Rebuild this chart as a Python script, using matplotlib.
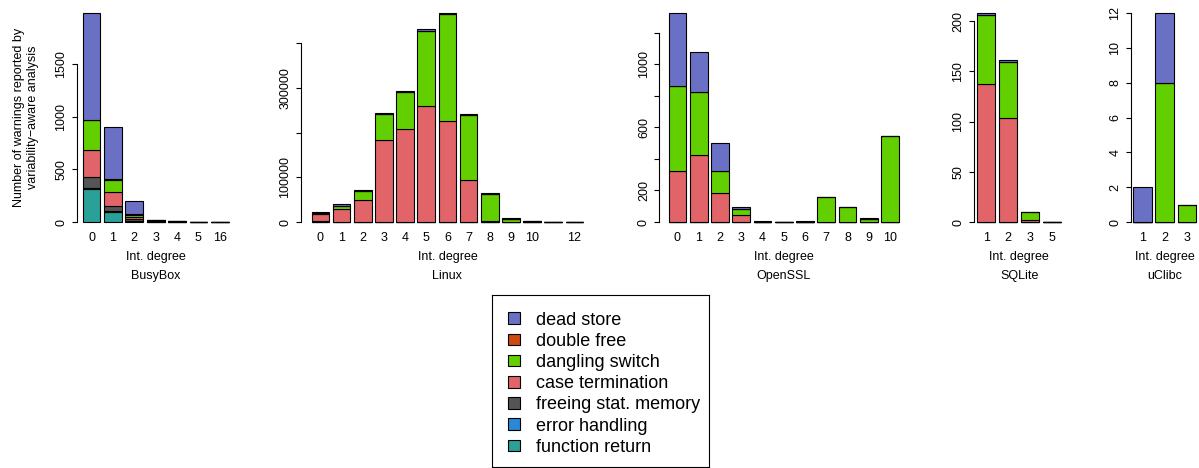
import matplotlib
matplotlib.use("Agg")
import matplotlib.pyplot as plt
from matplotlib.patches import Rectangle
import numpy as np

plt.rcParams['font.family'] = ['Liberation Sans', 'DejaVu Sans']

# ---------------- data ----------------
categories = ["function return", "error handling", "freeing stat. memory",
              "case termination", "dangling switch", "double free", "dead store"]
colors = {"dead store": "#6A70C4", "double free": "#D04A10",
          "dangling switch": "#62D000", "case termination": "#E06468",
          "freeing stat. memory": "#555555", "error handling": "#2A88D8",
          "function return": "#2AA198"}

busybox_degrees = ["0", "1", "2", "3", "4", "5", "16"]
busybox_function_return = [310, 95, 10, 2, 1, 0, 0]
busybox_error_handling = [12, 6, 3, 1, 0, 0, 0]
busybox_freeing = [103, 50, 18, 4, 2, 1, 0]
busybox_case = [260, 130, 18, 5, 3, 1, 1]
busybox_dangling = [285, 123, 22, 4, 2, 1, 1]
busybox_double_free = [3, 2, 3, 1, 0, 0, 0]
busybox_dead_store = [1014, 502, 122, 5, 3, 2, 1]

linux_degrees = ["0", "1", "2", "3", "4", "5", "6", "7", "8", "9", "10", "", "12"]
linux_freeing = [2000, 0, 0, 0, 0, 0, 0, 0, 0, 0, 500, 0, 0]
linux_case = [16000, 28400, 49000, 183600, 208000, 260000, 226000, 93000, 2000, 500, 300, 100, 50]
linux_dangling = [3000, 8200, 21000, 58400, 83000, 168000, 239000, 146500, 60700, 5500, 700, 300, 100]
linux_dead_store = [2000, 3700, 1000, 1500, 2500, 3000, 2000, 1500, 1500, 2000, 1000, 300, 200]

openssl_degrees = ["0", "1", "2", "3", "4", "5", "6", "7", "8", "9", "10"]
openssl_case = [324, 423, 182, 42, 2, 1, 2, 0, 0, 0, 0]
openssl_dangling = [539, 404, 140, 41, 1, 0, 1, 161, 97, 21, 544]
openssl_dead_store = [462, 250, 177, 10, 2, 1, 2, 0, 0, 2, 0]

sqlite_degrees = ["1", "2", "3", "5"]
sqlite_case = [137, 104, 2, 0]
sqlite_dangling = [69, 55, 8, 0]
sqlite_dead_store = [2, 2, 0, 0.5]

uclibc_degrees = ["1", "2", "3"]
uclibc_dangling = [0, 8, 1]
uclibc_dead_store = [2, 4, 0]

busybox_ticks = [0, 500, 1000, 1500]
busybox_ticklabels = ["0", "500", "1000", "1500"]
linux_ticks = [0, 100000, 200000, 300000, 400000]
linux_ticklabels = ["0", "100000", "", "300000", ""]
openssl_ticks = [0, 200, 400, 600, 800, 1000, 1200]
openssl_ticklabels = ["0", "200", "", "600", "", "1000", ""]
sqlite_ticks = [0, 50, 100, 150, 200]
sqlite_ticklabels = ["0", "50", "100", "150", "200"]
uclibc_ticks = [0, 2, 4, 6, 8, 10, 12]
uclibc_ticklabels = ["0", "2", "4", "6", "8", "10", "12"]


def series(n, **kw):
    return {c: np.array(kw.get(c, [0] * n), dtype=float) for c in categories}


panels = [
    ("BusyBox", busybox_degrees, series(len(busybox_degrees), **{
        "function return": busybox_function_return,
        "error handling": busybox_error_handling,
        "freeing stat. memory": busybox_freeing,
        "case termination": busybox_case,
        "dangling switch": busybox_dangling,
        "double free": busybox_double_free,
        "dead store": busybox_dead_store}), busybox_ticks, busybox_ticklabels,
     (76.75, 234.6)),
    ("Linux", linux_degrees, series(len(linux_degrees), **{
        "freeing stat. memory": linux_freeing,
        "case termination": linux_case,
        "dangling switch": linux_dangling,
        "dead store": linux_dead_store}), linux_ticks, linux_ticklabels,
     (300.8, 594.0)),
    ("OpenSSL", openssl_degrees, series(len(openssl_degrees), **{
        "case termination": openssl_case,
        "dangling switch": openssl_dangling,
        "dead store": openssl_dead_store}), openssl_ticks, openssl_ticklabels,
     (659.4, 908.1)),
    ("SQLite", sqlite_degrees, series(len(sqlite_degrees), **{
        "case termination": sqlite_case,
        "dangling switch": sqlite_dangling,
        "dead store": sqlite_dead_store}), sqlite_ticks, sqlite_ticklabels,
     (973.7, 1064.7)),
    ("uClibc", uclibc_degrees, series(len(uclibc_degrees), **{
        "dangling switch": uclibc_dangling,
        "dead store": uclibc_dead_store}), uclibc_ticks, uclibc_ticklabels,
     (1130.8, 1198.5)),
]

W, H = 1199, 468
fig = plt.figure(figsize=(W / 100, H / 100), dpi=100)

plot_top_px, plot_bot_px = 4.7, 230.4
FS = 9

for name, degs, data, ticks, ticklabels, (xl, xr) in panels:
    ax = fig.add_axes([xl / W, 1 - plot_bot_px / H, (xr - xl) / W,
                       (plot_bot_px - plot_top_px) / H])
    n = len(degs)
    x = 0.7 + 1.2 * np.arange(n)
    bottom = np.zeros(n)
    for c in categories:
        ax.bar(x, data[c], width=1.0, bottom=bottom, color=colors[c],
               edgecolor="black", linewidth=0.8)
        bottom = bottom + data[c]
    ymax = bottom.max()
    ax.set_ylim(-0.04 * ymax, 1.04 * ymax)
    ext = 0.04 * (1.2 * n - 0.2)
    ax.set_xlim(0.2 - ext, 1.2 * n + ext)
    for s in ["top", "right", "bottom"]:
        ax.spines[s].set_visible(False)
    ax.spines["left"].set_bounds(ticks[0], ticks[-1])
    ax.spines["left"].set_linewidth(0.8)
    ax.set_yticks(ticks)
    ax.set_yticklabels(ticklabels, rotation=90, va="center", fontsize=FS)
    ax.tick_params(axis="y", length=3.6, width=0.8, pad=3.2)
    ax.set_xticks(x)
    ax.set_xticklabels(degs, fontsize=FS)
    ax.tick_params(axis="x", length=0, pad=1.5)
    tr = matplotlib.transforms.blended_transform_factory(ax.transAxes, fig.transFigure)
    ax.text(0.5, 1 - 257 / H, "Int. degree", transform=tr, ha="center",
            va="center", fontsize=FS)
    ax.text(0.5, 1 - 276 / H, name, transform=tr, ha="center",
            va="center", fontsize=FS)

fig.text(26 / W, 1 - 117.5 / H,
         "Number of warnings reported by\nvariability\u2212aware analysis",
         rotation=90, ha="center", va="center", fontsize=FS,
         multialignment="center", linespacing=1.25)

# legend
lx0, lx1, ly0, ly1 = 491.7, 709.3, 295, 466.7
lax = fig.add_axes([lx0 / W, 1 - ly1 / H, (lx1 - lx0) / W, (ly1 - ly0) / H])
lax.set_xlim(lx0, lx1)
lax.set_ylim(ly1, ly0)
lax.set_xticks([])
lax.set_yticks([])
for s in lax.spines.values():
    s.set_linewidth(0.8)
legend_order = ["dead store", "double free", "dangling switch", "case termination",
                "freeing stat. memory", "error handling", "function return"]
row_y = 318.3
for lab in legend_order:
    lax.add_patch(Rectangle((507.5, row_y - 5.8), 12.5, 11.6,
                            facecolor=colors[lab], edgecolor="black", linewidth=0.8))
    lax.text(536, row_y, lab, fontsize=13, ha="left", va="center_baseline")
    row_y += 21.17

fig.savefig("out.png", dpi=100)
